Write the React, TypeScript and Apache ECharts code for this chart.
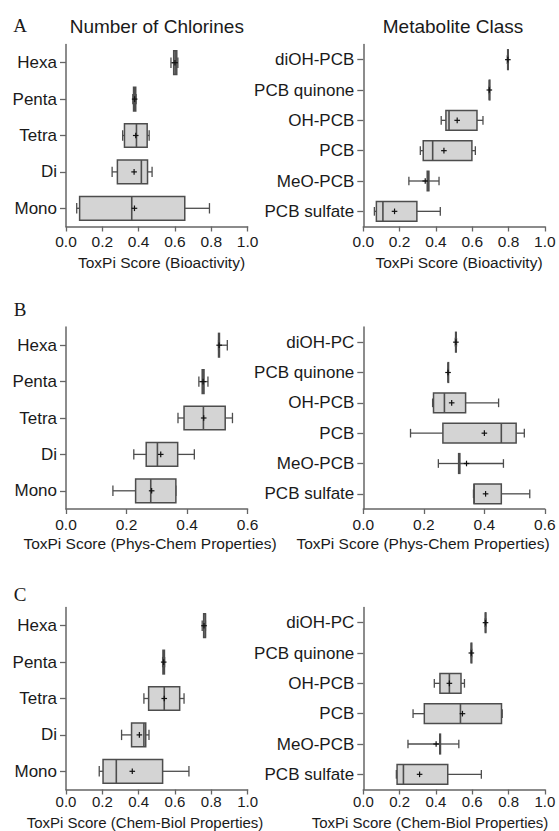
import React, { useEffect, useRef } from 'react';
import * as echarts from 'echarts';

// Categories (top to bottom)
const chlorineCategories = ['Hexa', 'Penta', 'Tetra', 'Di', 'Mono'];
const metaboliteCategoriesA = ['diOH-PCB', 'PCB quinone', 'OH-PCB', 'PCB', 'MeO-PCB', 'PCB sulfate'];
const metaboliteCategoriesBC = ['diOH-PC', 'PCB quinone', 'OH-PCB', 'PCB', 'MeO-PCB', 'PCB sulfate'];

// Box statistics per category: [min, q1, median, q3, max, mean]
const bioactivityChlorines = [
  [0.578, 0.593, 0.601, 0.610, 0.616, 0.600],
  [0.368, 0.372, 0.378, 0.384, 0.386, 0.378],
  [0.312, 0.322, 0.388, 0.447, 0.458, 0.384],
  [0.254, 0.283, 0.415, 0.449, 0.474, 0.375],
  [0.059, 0.075, 0.362, 0.654, 0.790, 0.377],
];
const bioactivityMetabolites = [
  [0.793, 0.795, 0.796, 0.798, 0.799, 0.796],
  [0.694, 0.694, 0.694, 0.695, 0.695, 0.694],
  [0.429, 0.455, 0.472, 0.626, 0.659, 0.517],
  [0.314, 0.330, 0.382, 0.598, 0.617, 0.444],
  [0.251, 0.352, 0.358, 0.361, 0.417, 0.341],
  [0.061, 0.072, 0.108, 0.295, 0.424, 0.172],
];
const physChemChlorines = [
  [0.504, 0.504, 0.505, 0.507, 0.533, 0.506],
  [0.439, 0.450, 0.453, 0.456, 0.469, 0.453],
  [0.370, 0.390, 0.454, 0.526, 0.550, 0.455],
  [0.224, 0.265, 0.302, 0.369, 0.424, 0.313],
  [0.155, 0.230, 0.280, 0.363, 0.363, 0.283],
];
const physChemMetabolites = [
  [0.304, 0.305, 0.306, 0.307, 0.308, 0.306],
  [0.280, 0.280, 0.280, 0.281, 0.281, 0.280],
  [0.229, 0.232, 0.268, 0.338, 0.447, 0.292],
  [0.156, 0.263, 0.456, 0.505, 0.532, 0.400],
  [0.248, 0.315, 0.317, 0.319, 0.463, 0.341],
  [0.364, 0.366, 0.366, 0.456, 0.550, 0.404],
];
const chemBiolChlorines = [
  [0.750, 0.758, 0.767, 0.768, 0.768, 0.760],
  [0.532, 0.534, 0.538, 0.542, 0.543, 0.538],
  [0.429, 0.455, 0.541, 0.626, 0.650, 0.541],
  [0.306, 0.361, 0.429, 0.439, 0.457, 0.404],
  [0.183, 0.204, 0.277, 0.532, 0.677, 0.365],
];
const chemBiolMetabolites = [
  [0.671, 0.672, 0.673, 0.674, 0.675, 0.673],
  [0.594, 0.594, 0.595, 0.597, 0.597, 0.595],
  [0.391, 0.422, 0.474, 0.538, 0.557, 0.474],
  [0.274, 0.336, 0.535, 0.761, 0.765, 0.546],
  [0.246, 0.421, 0.423, 0.425, 0.526, 0.401],
  [0.182, 0.186, 0.221, 0.465, 0.650, 0.310],
];

const axisMaxBio = 1.0;
const axisMaxPhys = 0.6;
const axisMaxChem = 1.0;

const panelLetters = ['A', 'B', 'C'];
const columnTitles = ['Number of Chlorines', 'Metabolite Class'];
const axisNames = [
  'ToxPi Score (Bioactivity)',
  'ToxPi Score (Phys-Chem Properties)',
  'ToxPi Score (Chem-Biol Properties)',
];

const FONT = '"Liberation Sans", Arial, Helvetica, sans-serif';
const SERIF = '"Liberation Serif", "Times New Roman", serif';
const TEXT = '#1a1a1a';
const AXIS = '#666666';
const BOX_STROKE = '#4d4d4d';
const BOX_FILL = '#d4d4d4';

export default function App() {
  const ref = useRef<HTMLDivElement>(null);

  useEffect(() => {
    if (!ref.current) return;
    const chart = echarts.init(ref.current, null, { renderer: 'svg' });

    const rowTops = [44.5, 327, 607.5];
    const plotH = 182;
    const colLefts = [66, 363.3];
    const plotW = 181.6;
    const labelMargins = [7, 7, 4];
    const labelSizes = [15.5, 15.5, 15];

    const panels = [
      { cats: chlorineCategories, stats: bioactivityChlorines, max: axisMaxBio, row: 0, col: 0 },
      { cats: metaboliteCategoriesA, stats: bioactivityMetabolites, max: axisMaxBio, row: 0, col: 1 },
      { cats: chlorineCategories, stats: physChemChlorines, max: axisMaxPhys, row: 1, col: 0 },
      { cats: metaboliteCategoriesBC, stats: physChemMetabolites, max: axisMaxPhys, row: 1, col: 1 },
      { cats: chlorineCategories, stats: chemBiolChlorines, max: axisMaxChem, row: 2, col: 0 },
      { cats: metaboliteCategoriesBC, stats: chemBiolMetabolites, max: axisMaxChem, row: 2, col: 1 },
    ];

    const grid = panels.map((p) => ({
      left: colLefts[p.col],
      top: rowTops[p.row],
      width: plotW,
      height: plotH,
      containLabel: false,
    }));

    const xAxis = panels.map((p, i) => ({
      type: 'value',
      gridIndex: i,
      min: 0,
      max: p.max,
      interval: 0.2,
      splitLine: { show: false },
      axisLine: { show: true, lineStyle: { color: AXIS, width: 1.5 } },
      axisTick: { show: true, length: 5, lineStyle: { color: AXIS, width: 1.3 } },
      axisLabel: {
        formatter: (v: number) => v.toFixed(1),
        fontSize: labelSizes[p.row],
        fontFamily: FONT,
        color: TEXT,
        margin: labelMargins[p.row],
      },
    }));

    const yAxis = panels.map((p, i) => ({
      type: 'category',
      gridIndex: i,
      data: p.cats,
      inverse: true,
      axisLine: { show: true, lineStyle: { color: AXIS, width: 1.5 } },
      axisTick: { show: true, alignWithLabel: true, length: 6, lineStyle: { color: AXIS, width: 1.3 } },
      axisLabel: { fontSize: 17, fontFamily: FONT, color: TEXT, margin: 9 },
      splitLine: { show: false },
    }));

    const renderItem = (params: any, api: any) => {
      const cat = api.value(0);
      const mn = api.value(1);
      const q1 = api.value(2);
      const md = api.value(3);
      const q3 = api.value(4);
      const mx = api.value(5);
      const mean = api.value(6);
      const y = api.coord([0, cat])[1];
      const band = api.size([0, 1])[1];
      const h = band * 0.65;
      const cap = h * 0.22;
      const X = (v: number) => api.coord([v, cat])[0];
      const lw = 1.3;
      const ln = (x1: number, y1: number, x2: number, y2: number, stroke = BOX_STROKE, w = lw) => ({
        type: 'line',
        shape: { x1, y1, x2, y2 },
        style: { stroke, lineWidth: w },
      });
      const xm = X(mean);
      return {
        type: 'group',
        children: [
          ln(X(mn), y, X(q1), y),
          ln(X(q3), y, X(mx), y),
          ln(X(mn), y - cap, X(mn), y + cap),
          ln(X(mx), y - cap, X(mx), y + cap),
          {
            type: 'rect',
            shape: { x: X(q1), y: y - h / 2, width: Math.max(X(q3) - X(q1), 0.5), height: h },
            style: { fill: BOX_FILL, stroke: BOX_STROKE, lineWidth: 1.5 },
          },
          ln(X(md), y - h / 2, X(md), y + h / 2, BOX_STROKE, 1.6),
          ln(xm - 2.8, y, xm + 2.8, y, '#111111', 1.2),
          ln(xm, y - 2.8, xm, y + 2.8, '#111111', 1.2),
        ],
      };
    };

    const series = panels.map((p, i) => ({
      type: 'custom',
      xAxisIndex: i,
      yAxisIndex: i,
      renderItem,
      encode: { x: [1, 2, 3, 4, 5, 6], y: 0 },
      data: p.stats.map((s, k) => [k, ...s]),
      clip: false,
    }));

    const txt = (text: string, x: number, y: number, fontSize: number, fontFamily = FONT) => ({
      type: 'text',
      x,
      y,
      style: {
        text,
        fill: TEXT,
        fontSize,
        fontFamily,
        align: 'center',
        verticalAlign: 'middle',
        textAlign: 'center',
        textVerticalAlign: 'middle',
      },
    });

    const graphic = [
      txt(panelLetters[0], 20, 25, 19, SERIF),
      txt(panelLetters[1], 20, 309, 19, SERIF),
      txt(panelLetters[2], 20, 594, 19, SERIF),
      txt(columnTitles[0], 156.8, 26, 19),
      txt(columnTitles[1], 453, 26, 19),
      txt(axisNames[0], 161.5, 262.5, 15.5),
      txt(axisNames[0], 459, 262.5, 15.5),
      txt(axisNames[1], 150, 543.5, 15.5),
      txt(axisNames[1], 423, 543.5, 15.5),
      txt(axisNames[2], 145, 822, 15),
      txt(axisNames[2], 430, 822, 15),
    ];

    chart.setOption({
      animation: false,
      backgroundColor: '#ffffff',
      grid,
      xAxis,
      yAxis,
      series,
      graphic,
    });

    return () => chart.dispose();
  }, []);

  return (
    <div
      ref={ref}
      style={{ position: 'fixed', left: 0, top: 0, width: 559, height: 831, background: '#fff' }}
    />
  );
}
